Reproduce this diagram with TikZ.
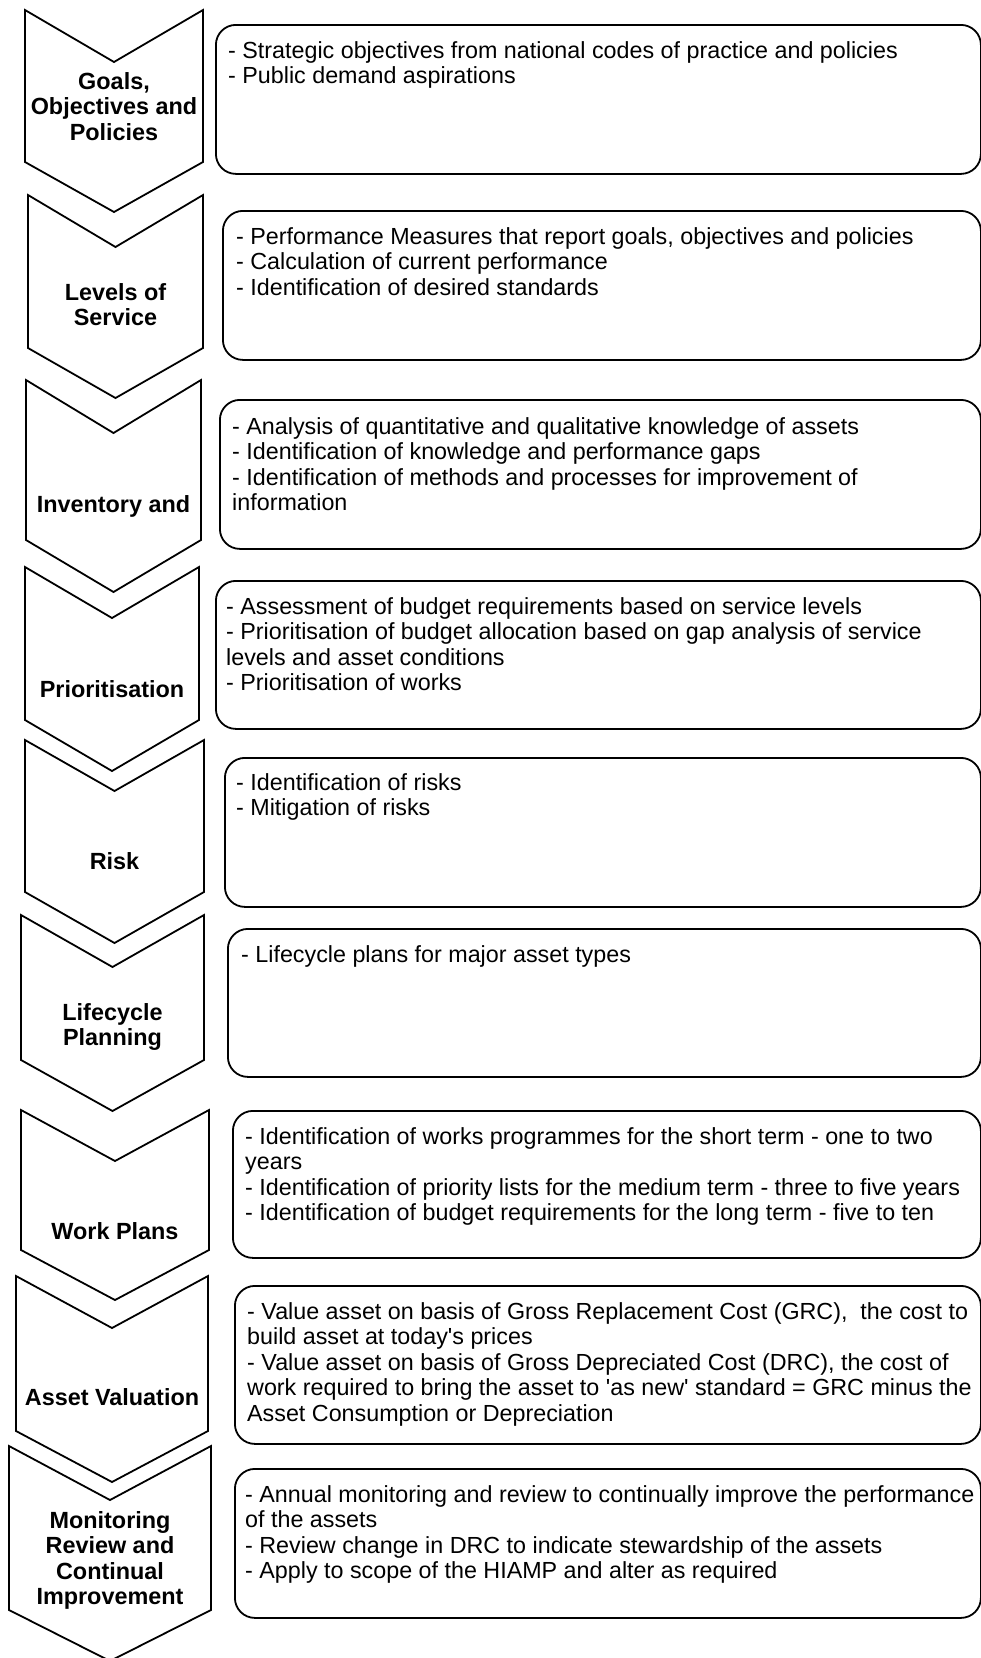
\documentclass[tikz,border=0pt]{standalone}
\usepackage{fontspec}
\setmainfont{Liberation Sans}
\begin{document}
\begin{tikzpicture}[x=1pt,y=-1pt,
	chev/.style={draw=black, line width=1.8pt, line join=miter},
	descbox/.style={rectangle, draw=black, line width=1.8pt, rounded corners=20pt, anchor=north west, inner sep=0pt},
	desctext/.style={anchor=north west, inner sep=0pt, align=left, font=\fontsize{23.3}{25.5}\selectfont},
	chevlabel/.style={anchor=north, inner sep=0pt, align=center, font=\fontsize{23.4}{25.5}\selectfont\bfseries}]
	\useasboundingbox (0,0) rectangle (981,1658);

	% chevrons down the left
	\draw[chev] (25,10) -- (114,62) -- (203,10) -- (203,162) -- (114,212) -- (25,162) -- cycle;
	\draw[chev] (28,195) -- (115.5,247) -- (203,195) -- (203,348) -- (115.5,398) -- (28,348) -- cycle;
	\draw[chev] (26,380) -- (113.5,433) -- (201,380) -- (201,540) -- (113.5,592) -- (26,540) -- cycle;
	\draw[chev] (25,567) -- (112,618) -- (199,567) -- (199,720) -- (112,771) -- (25,720) -- cycle;
	\draw[chev] (25,740) -- (114.5,791) -- (204,740) -- (204,892) -- (114.5,943) -- (25,892) -- cycle;
	\draw[chev] (21,915) -- (112.5,967) -- (204,915) -- (204,1060) -- (112.5,1111) -- (21,1060) -- cycle;
	\draw[chev] (21,1110) -- (115,1161) -- (209,1110) -- (209,1250) -- (115,1300) -- (21,1250) -- cycle;
	\draw[chev] (16,1276) -- (112,1328) -- (208,1276) -- (208,1431) -- (112,1482) -- (16,1431) -- cycle;
	\draw[chev] (9,1446) -- (110,1500) -- (211,1446) -- (211,1610) -- (110,1661) -- (9,1610) -- cycle;

	\node[chevlabel](goalsLbl) at (114,72){Goals,\\Objectives and\\Policies};
	\node[chevlabel](serviceLbl) at (115.5,283){Levels of\\Service};
	\node[chevlabel](inventoryLbl) at (113.5,495){Inventory and};
	\node[chevlabel](priorityLbl) at (112,680){Prioritisation};
	\node[chevlabel](riskLbl) at (114.5,852){Risk};
	\node[chevlabel](lifecycleLbl) at (112.5,1003){Lifecycle\\Planning};
	\node[chevlabel](worksLbl) at (115,1222){Work Plans};
	\node[chevlabel](valuationLbl) at (112,1388){Asset Valuation};
	\node[chevlabel](monitorLbl) at (110,1511){Monitoring\\Review and\\Continual\\Improvement};

	% rounded boxes on the right
	\node[descbox, minimum width=765, minimum height=149](goalsBox) at (215,24){};
	\node[descbox, minimum width=758, minimum height=149](serviceBox) at (222,210){};
	\node[descbox, minimum width=761, minimum height=149](inventoryBox) at (219,399){};
	\node[descbox, minimum width=765, minimum height=148](priorityBox) at (215,580){};
	\node[descbox, minimum width=756, minimum height=149](riskBox) at (224,757){};
	\node[descbox, minimum width=753, minimum height=148](lifecycleBox) at (227,928){};
	\node[descbox, minimum width=748, minimum height=147](worksBox) at (232,1110){};
	\node[descbox, minimum width=746, minimum height=158](valuationBox) at (234,1285){};
	\node[descbox, minimum width=746, minimum height=149](monitorBox) at (234,1468){};

	\node[desctext](goalsTxt) at (228,41){- Strategic objectives from national codes of practice and policies\\- Public demand aspirations};
	\node[desctext](serviceTxt) at (236,227){- Performance Measures that report goals, objectives and policies\\- Calculation of current performance\\- Identification of desired standards};
	\node[desctext](inventoryTxt) at (232,417){- Analysis of quantitative and qualitative knowledge of assets\\- Identification of knowledge and performance gaps\\- Identification of methods and processes for improvement of\\information};
	\node[desctext](priorityTxt) at (226,597){- Assessment of budget requirements based on service levels\\- Prioritisation of budget allocation based on gap analysis of service\\levels and asset conditions\\- Prioritisation of works};
	\node[desctext](riskTxt) at (236,773){- Identification of risks\\- Mitigation of risks};
	\node[desctext](lifecycleTxt) at (241,945){- Lifecycle plans for major asset types};
	\node[desctext](worksTxt) at (245,1127){- Identification of works programmes for the short term - one to two\\years\\- Identification of priority lists for the medium term - three to five years\\- Identification of budget requirements for the long term - five to ten};
	\node[desctext](valuationTxt) at (247,1302){- Value asset on basis of Gross Replacement Cost (GRC),\ \ the cost to\\build asset at today\textquotesingle s prices\\- Value asset on basis of Gross Depreciated Cost (DRC), the cost of\\work required to bring the asset to \textquotesingle as new\textquotesingle\ standard = GRC minus the\\Asset Consumption or Depreciation};
	\node[desctext](monitorTxt) at (245,1485){- Annual monitoring and review to continually improve the performance\\of the assets\\- Review change in DRC to indicate stewardship of the assets\\- Apply to scope of the HIAMP and alter as required};
\end{tikzpicture}
\end{document}
